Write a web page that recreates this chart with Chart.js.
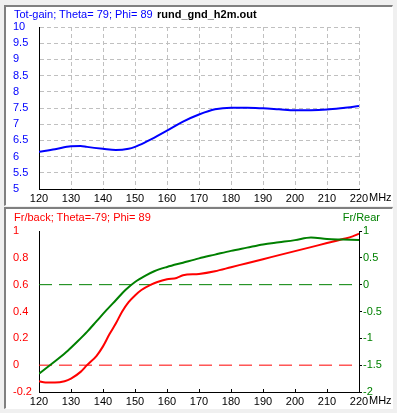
<!DOCTYPE html>
<html>
<head>
<meta charset="utf-8">
<script src="https://cdn.jsdelivr.net/npm/chart.js@4.4.1/dist/chart.umd.min.js"></script>
<style>
    body { margin: 0; background: #f0f0f0; width: 397px; height: 413px; overflow: hidden; position: relative; font-family: "Liberation Sans", Arial, sans-serif; }
    .panel { position: absolute; left: 4px; width: 386px; background: #fff;
             border-top: 2px solid #808080; border-left: 2px solid #808080;
             border-right: 1px solid #fff; border-bottom: 1px solid #fff; }
    canvas { position: absolute; left: 0; }
    .titulo { position: absolute; font-size: 11px; line-height: 13px; white-space: nowrap; }
</style>
</head>
<body>
<div class="panel" style="top:5px; height:198px;"></div>
<div class="panel" style="top:207px; height:199px;"></div>

<canvas id="graficoGanancia" width="397" height="206" style="top:0;"></canvas>
<canvas id="graficoFrente" width="397" height="206" style="top:207px;"></canvas>

<div class="titulo" style="left:14px; top:8px; color:#0000ff;">Tot-gain; Theta= 79; Phi= 89</div>
<div class="titulo" style="left:157px; top:8px; color:#000; font-weight:bold;">rund_gnd_h2m.out</div>
<div class="titulo" style="left:14px; top:211px; color:#ff0000;">Fr/back; Theta=-79; Phi= 89</div>
<div class="titulo" style="right:17px; top:211px; color:#008000;">Fr/Rear</div>

<script>
// Ganancia total (dBi) vs frecuencia
const gainFreq = [120, 125, 130, 133, 135, 140, 144, 148, 150, 153, 155, 160, 165, 170, 175, 180, 185, 190, 195, 200, 205, 210, 215, 220];
const gainVal  = [6.15, 6.23, 6.32, 6.33, 6.30, 6.24, 6.20, 6.24, 6.30, 6.43, 6.53, 6.80, 7.08, 7.30, 7.46, 7.51, 7.51, 7.49, 7.46, 7.43, 7.43, 7.45, 7.50, 7.56];

// Fr/back (eje izquierdo)
const fbFreq = [120, 122, 125, 128, 130, 133, 135, 138, 140, 142, 144, 146, 148, 150, 152, 155, 157, 160, 163, 165, 170, 175, 180, 185, 190, 195, 200, 205, 210, 215, 218, 220];
const fbVal  = [-0.12, -0.13, -0.13, -0.12, -0.10, -0.05, 0.00, 0.07, 0.14, 0.23, 0.31, 0.40, 0.47, 0.52, 0.56, 0.60, 0.62, 0.64, 0.65, 0.67, 0.68, 0.70, 0.73, 0.76, 0.79, 0.82, 0.85, 0.88, 0.91, 0.94, 0.96, 0.98];

// Fr/Rear (eje derecho)
const frFreq = [120, 123, 126, 129, 132, 135, 138, 141, 144, 147, 150, 153, 156, 160, 165, 170, 175, 180, 185, 190, 195, 200, 205, 210, 215, 220];
const frVal  = [-1.66, -1.52, -1.38, -1.23, -1.06, -0.88, -0.68, -0.48, -0.29, -0.10, 0.05, 0.16, 0.25, 0.33, 0.41, 0.49, 0.56, 0.63, 0.69, 0.75, 0.79, 0.83, 0.88, 0.85, 0.84, 0.83];

// ejes
const freqMin = 120, freqMax = 220, freqStep = 10;
const gainMin = 5, gainMax = 10, gainStep = 0.5;
const fbMin = -0.2, fbMax = 1, fbStep = 0.2;
const frMin = -2, frMax = 1, frStep = 0.5;
const unidad = 'MHz';

const fuente = { family: '"Liberation Sans", Arial, sans-serif', size: 11 };

function puntos(xs, ys) {
    return xs.map((x, i) => ({ x: x, y: ys[i] }));
}

// sin ceros de más ni "-0"
function formato(valor) {
    const r = Math.round(valor * 100) / 100;
    return (r === 0 ? 0 : r).toString();
}

// dibuja "MHz" al final del eje x
const etiquetaUnidad = {
    id: 'etiquetaUnidad',
    afterDraw(chart) {
        const ctx = chart.ctx;
        const xs = chart.scales.x;
        ctx.save();
        ctx.font = '11px ' + fuente.family;
        ctx.fillStyle = '#000';
        ctx.textBaseline = 'middle';
        ctx.textAlign = 'left';
        ctx.fillText(unidad, xs.right + 10, xs.top + 9);
        ctx.restore();
    }
};

// marcas cortas hacia dentro sobre el eje x (grafico de abajo)
const marcasInternas = {
    id: 'marcasInternas',
    afterDraw(chart) {
        const ctx = chart.ctx;
        const xs = chart.scales.x;
        ctx.save();
        ctx.strokeStyle = '#000';
        ctx.lineWidth = 1;
        ctx.beginPath();
        xs.ticks.forEach(t => {
            const px = Math.round(xs.getPixelForValue(t.value)) + 0.5;
            ctx.moveTo(px, xs.top);
            ctx.lineTo(px, xs.top - 3);
        });
        ctx.stroke();
        ctx.restore();
    }
};

const ejeX = {
    type: 'linear',
    min: freqMin,
    max: freqMax,
    afterFit: s => { s.height = 17; },
    ticks: { stepSize: freqStep, color: '#000', font: fuente, padding: 3, maxRotation: 0 },
    border: { color: '#000', width: 1 }
};

new Chart(document.getElementById('graficoGanancia').getContext('2d'), {
    type: 'line',
    data: {
        datasets: [{
            data: puntos(gainFreq, gainVal),
            borderColor: '#0000ff',
            borderWidth: 2,
            pointRadius: 0,
            cubicInterpolationMode: 'monotone'
        }]
    },
    options: {
        responsive: false,
        animation: false,
        layout: { padding: { left: 13, right: 38, top: 27, bottom: 0 } },
        plugins: { legend: { display: false }, tooltip: { enabled: false } },
        scales: {
            x: Object.assign({}, ejeX, {
                grid: { color: '#c0c0c0', drawTicks: false },
                border: { color: '#000', width: 1, dash: [4, 3] }
            }),
            y: {
                min: gainMin,
                max: gainMax,
                afterFit: s => { s.width = 26; },
                ticks: { stepSize: gainStep, color: '#0000ff', font: fuente, crossAlign: 'far', padding: 0, callback: formato },
                grid: { color: '#c0c0c0', drawTicks: false },
                border: { color: '#000', width: 1, dash: [4, 3] }
            }
        }
    },
    plugins: [etiquetaUnidad]
});

new Chart(document.getElementById('graficoFrente').getContext('2d'), {
    type: 'line',
    data: {
        datasets: [
            {
                data: puntos([freqMin, freqMax], [0, 0]),
                yAxisID: 'yL',
                borderColor: '#ff0000',
                borderWidth: 1,
                borderDash: [13, 7],
                pointRadius: 0,
                order: 3
            },
            {
                data: puntos([freqMin, freqMax], [0, 0]),
                yAxisID: 'yR',
                borderColor: '#008000',
                borderWidth: 1,
                borderDash: [13, 7],
                pointRadius: 0,
                order: 3
            },
            {
                data: puntos(fbFreq, fbVal),
                yAxisID: 'yL',
                borderColor: '#ff0000',
                borderWidth: 2,
                pointRadius: 0,
                cubicInterpolationMode: 'monotone',
                order: 2
            },
            {
                data: puntos(frFreq, frVal),
                yAxisID: 'yR',
                borderColor: '#008000',
                borderWidth: 2,
                pointRadius: 0,
                cubicInterpolationMode: 'monotone',
                order: 1
            }
        ]
    },
    options: {
        responsive: false,
        animation: false,
        layout: { padding: { left: 13, right: 0, top: 24, bottom: 0 } },
        plugins: { legend: { display: false }, tooltip: { enabled: false } },
        scales: {
            x: Object.assign({}, ejeX, {
                afterFit: s => { s.height = 21; },
                grid: { display: false, drawTicks: false }
            }),
            yL: {
                position: 'left',
                min: fbMin,
                max: fbMax,
                afterFit: s => { s.width = 26; },
                ticks: { stepSize: fbStep, color: '#ff0000', font: fuente, crossAlign: 'far', padding: 0, callback: formato },
                grid: { display: false, drawTicks: false },
                border: { color: '#000', width: 1 }
            },
            yR: {
                position: 'right',
                min: frMin,
                max: frMax,
                afterFit: s => { s.width = 38; },
                ticks: { stepSize: frStep, color: '#008000', font: fuente, padding: 1, callback: formato },
                grid: { drawOnChartArea: false, color: '#000', tickLength: 3 },
                border: { color: '#000', width: 1 }
            }
        }
    },
    plugins: [etiquetaUnidad, marcasInternas]
});
</script>
</body>
</html>
